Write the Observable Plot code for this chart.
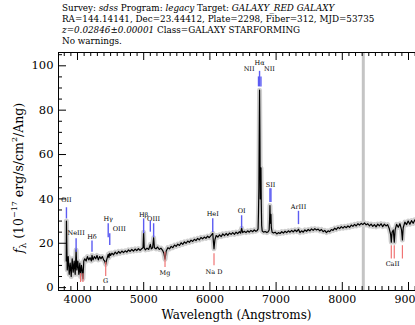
<!DOCTYPE html>
<html><head><meta charset="utf-8">
<script src="https://cdn.jsdelivr.net/npm/d3@7"></script>
<script src="https://cdn.jsdelivr.net/npm/@observablehq/plot@0.6"></script>
<style>
html,body{margin:0;padding:0;background:#fff;overflow:hidden;width:415px;height:325px;}
#wrap{position:relative;width:415px;height:325px;overflow:hidden;}
#chart{position:absolute;left:0;top:0;width:440px;}
#chart svg{max-width:none !important;width:440px;height:325px;}
#title{position:absolute;left:62px;top:3px;font-family:"DejaVu Serif",serif;font-size:8.8px;line-height:11px;color:#000;white-space:nowrap;}
#ylab{position:absolute;left:19px;top:178px;transform:translate(-50%,-50%) rotate(-90deg);font-family:"DejaVu Serif",serif;font-size:12.5px;white-space:nowrap;color:#000;}
#ylab sub{font-size:9px;vertical-align:-3px;}
#ylab sup{font-size:8px;vertical-align:6px;line-height:0;}
</style></head>
<body><div id="wrap"><div id="chart"></div><div id="title"></div><div id="ylab"></div></div>
<script>
// ---- title text ----
const titleLines = [
  "Survey: <i>sdss</i> Program: <i>legacy</i> Target: <i>GALAXY_RED GALAXY</i>",
  "RA=144.14141, Dec=23.44412, Plate=2298, Fiber=312, MJD=53735",
  "<i>z=0.02846±0.00001</i> Class=GALAXY STARFORMING",
  "No warnings."
];
const yTitle = "<i>f</i><sub>λ</sub> (10<sup>−17</sup> erg/s/cm<sup>2</sup>/Ang)";
const xTitle = "Wavelength (Angstroms)";

// ---- spectrum (wavelength in Angstroms, flux in 1e-17 erg/s/cm2/Ang) ----
const wave = [3830,3833,3838,3845,3860,3875,3890,3905,3920,3935,3950,3965,3979,3990,4005,4020,4035,4046,4060,4075,4082,4095,
4110,4130,4150,4170,4190,4210,4219,4235,4255,4275,4295,4315,4335,4355,4375,4395,4410,4426,4440,4464,4475,4487,4500,4520,4545,4570,4595,
4620,4645,4670,4695,4720,4745,4770,4795,4820,4845,4870,4895,4920,4945,4970,4990,4999,5008,5025,5050,5075,5100,5115,5135,5150,5162,5185,
5210,5235,5260,5285,5305,5322,5340,5365,5390,5415,5440,5465,5490,5515,5540,5565,5590,5615,5640,5665,5690,5715,5740,5765,5790,5815,5840,
5865,5890,5915,5940,5965,5990,6015,6043,6052,6062,6075,6095,6120,6145,6170,6195,6220,6245,6270,6295,6320,6345,6370,6395,6420,6445,6465,
6479,6495,6520,6545,6570,6595,6620,6645,6670,6695,6715,6728,6734,6740,6746,6750,6755,6761,6767,6771,6776,6782,6790,6810,6835,6860,6880,
6895,6903,6907,6912,6918,6922,6928,6940,6960,6985,7010,7035,7060,7085,7110,7135,7160,7185,7210,7235,7260,7285,7310,7338,7360,7385,7410,
7435,7460,7485,7510,7535,7560,7585,7610,7635,7660,7685,7710,7735,7760,7785,7810,7835,7860,7885,7910,7935,7960,7985,8010,8035,8060,8085,
8110,8135,8160,8185,8210,8235,8260,8285,8310,8335,8360,8385,8410,8435,8460,8485,8510,8535,8560,8585,8610,8635,8660,8685,8710,8730,8740,
8752,8770,8785,8798,8820,8845,8870,8895,8908,8920,8945,8970,8995,9020,9045,9070,9095,9120,9145,9170,9195];
const flux = [12,30,20,8,14,6,11,5,13,7,12,6,17,8,12,6,11,5,10,7,4,12,
13,12,14,12.5,13.5,12,14.5,12.5,14,13,14.5,12.5,14,13,14,12.5,12,10.5,12.5,15,13.5,15.5,14.5,15.5,14.8,16,15.2,
16.3,15.5,16.5,15.8,16.6,16,17,16.3,17.2,16.5,17.4,16.7,17.6,16.8,17.5,18,25,18,17,17.8,17.2,19.5,17.5,18,22.5,18,17.5,
18.3,17.2,17.8,16.8,15.5,12.8,16.5,18,17.5,18.6,18,19.2,18.6,19.6,19,20.2,19.5,20.6,20,21,20.4,21.4,20.8,21.8,21.2,22.2,21.5,
22.6,22,22.8,22.2,23.2,22.5,23.4,24.5,21,17.5,21.5,23.5,22.8,23.8,23,24.2,23.4,24.4,23.6,24.6,24,24.8,24,25,24.3,25.2,24.6,
26.8,24.8,25.4,24.8,25.6,25,25.8,25.2,26,25.4,25.8,26.5,34,45,72,89,70,40,48,54,38,28,25.5,25,25.3,24.8,25.2,
26,32,37,30,29,33,27,25,24.6,25,24.2,24.8,24.4,25.2,24.6,25.4,24.8,25.6,25,25.8,25.1,26,25.3,26.3,24.8,25.6,25,
26,25.4,26.2,25.6,26.5,25.8,26.6,26,26.4,25.6,26.2,25.2,25.8,24.8,25.6,25.2,26.2,25.8,26.8,26.2,27.2,26.6,27.5,26.8,27.6,27,27.8,
27.2,28.2,27.6,28.5,27.8,28.8,28.2,29,28.4,29.2,28.3,28.8,27.8,28.6,27.6,28.4,27.4,28.6,27.8,28.8,27.5,28.6,27.8,28.4,26.5,24,20.5,
25,26,20.5,26,28.5,27.2,28.8,26,21.5,27,29.5,28.4,30,28.6,30.2,29,30.5,29.4,30.8,29.6,31];

// masked region marker
const maskWave = [8317];

// ---- emission lines (blue) ----
const emWave = [3833,3979,4219,4464,4487,4999,5100,5150,6043,6479,6734,6750,6771,6907,6922,7338];
const emLo   = [31,16,16,22.5,19,24.3,25,22.5,24.8,26.6,90.5,90.5,90.5,38.4,38.4,28.4];
const emHi   = [36,22,21,28.8,24.3,31,30,28.8,31,32.4,95,97.5,95,44.6,44.6,34.4];
const emLabel     = ["OII","NeIII","Hδ","Hγ","OIII","Hβ","OIII","HeI","OI","NII","Hα","NII","SII","ArIII"];
const emLabelWave = [3833,3979,4219,4464,4487,4999,5150,6043,6479,6734,6750,6771,6915,7338];
const emLabelY    = [39.5,24.5,22.8,30.8,26.3,33,31,33.2,34.4,98.5,101.5,98.5,46.4,36.5];
const emLabelAnchor = ["middle","middle","middle","middle","start","middle","middle","middle","middle","end","middle","start","middle","middle"];

// ---- absorption lines (red) ----
const abWave = [4046,4082,4426,5322,6062,8740,8785,8908];
const abLo   = [2.3,2.3,5,9.1,9.9,12.9,12.9,12.9];
const abHi   = [6.3,6.3,11.4,15.9,15.3,18.9,18.9,18.9];
const abLabel     = ["G","Mg","Na D","CaII"];
const abLabelWave = [4426,5322,6062,8760];
const abLabelY    = [3,6.6,7.3,10.7];

// ---- axes ----
const xDomain = [3713, 9302];
const yDomain = [-1.3, 106];
const xMajor = [4000,5000,6000,7000,8000,9000];
const yMajor = [0,20,40,60,80,100];

const W=440,H=325,mL=58,mR=12,mT=52,mB=35;
const pw=W-mL-mR, ph=H-mT-mB;
const blue="#5c5cf2", red="#f07474";

const spec = wave.map((w,i)=>({w, f:flux[i]}));
const em = emWave.map((w,i)=>({w, y1:emLo[i], y2:emHi[i]}));
const emL = emLabel.map((t,i)=>({t, w:emLabelWave[i], y:emLabelY[i], a:emLabelAnchor[i]}));
const ab = abWave.map((w,i)=>({w, y1:abLo[i], y2:abHi[i]}));
const abL = abLabel.map((t,i)=>({t, w:abLabelWave[i], y:abLabelY[i]}));
const xMinor = d3.range(3800, 9301, 100).filter(v=>!xMajor.includes(v));
const yMinor = d3.range(0, 106, 5).filter(v=>!yMajor.includes(v));

const lbl = (anchor)=>Plot.text(emL.filter(d=>d.a===anchor),{x:"w",y:"y",text:"t",textAnchor:anchor,dx: anchor==="end"?-4:anchor==="start"?3:0,fontSize:6.5,fill:"#000"});

const chart = Plot.plot({
  width:W, height:H, marginLeft:mL, marginRight:mR, marginTop:mT, marginBottom:mB,
  style:{fontFamily:"'DejaVu Serif', serif", fontSize:"11px", background:"transparent", color:"#000", maxWidth:"none"},
  x:{domain:xDomain}, y:{domain:yDomain},
  marks:[
    Plot.ruleX(maskWave,{stroke:"#c4c4c4",strokeWidth:3}),
    Plot.line(spec,{x:"w",y:"f",stroke:"#cfcfcf",strokeWidth:5,clip:true}),
    Plot.line(spec,{x:"w",y:"f",stroke:"#000",strokeWidth:1.2,clip:true}),
    Plot.ruleX(em,{x:"w",y1:"y1",y2:"y2",stroke:blue,strokeWidth:1.4}),
    Plot.ruleX(ab,{x:"w",y1:"y1",y2:"y2",stroke:red,strokeWidth:1.2}),
    lbl("middle"), lbl("start"), lbl("end"),
    Plot.text(abL,{x:"w",y:"y",text:"t",fontSize:6.5,fill:"#000"}),
    // inward ticks
    Plot.ruleX(xMajor,{stroke:"#000",insetTop:ph-8}),
    Plot.ruleX(xMinor,{stroke:"#000",insetTop:ph-4}),
    Plot.ruleX(xMajor,{stroke:"#000",insetBottom:ph-8}),
    Plot.ruleX(xMinor,{stroke:"#000",insetBottom:ph-4}),
    Plot.ruleY(yMajor,{stroke:"#000",insetRight:pw-8}),
    Plot.ruleY(yMinor,{stroke:"#000",insetRight:pw-4}),
    Plot.ruleY(yMajor,{stroke:"#000",insetLeft:pw-8}),
    Plot.ruleY(yMinor,{stroke:"#000",insetLeft:pw-4}),
    Plot.axisX({ticks:xMajor, tickSize:0, tickPadding:5, tickFormat:d=>String(d), label:null, fontSize:11}),
    Plot.axisY({ticks:yMajor, tickSize:0, tickPadding:5, tickFormat:d=>String(d), label:null, fontSize:11.5}),
    Plot.frame({stroke:"#000"}),
    Plot.text([xTitle],{frameAnchor:"bottom", dy:28.5, dx:-7, fontSize:12, fill:"#000"})
  ]
});
document.getElementById("chart").appendChild(chart);
document.getElementById("title").innerHTML = titleLines.map(s=>"<div>"+s+"</div>").join("");
document.getElementById("ylab").innerHTML = yTitle;
</script>
</body></html>
